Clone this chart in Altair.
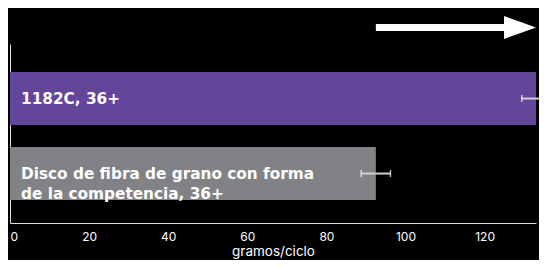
import altair as alt
import pandas as pd

labels = ["1182C, 36+", "Disco de fibra de grano con forma\nde la competencia, 36+"]
keys = ["a", "b"]
values = [133.0, 92.5]
errors = [3.6, 3.7]
colors = ["#634599", "#818285"]
x_ticks = [0, 20, 40, 60, 80, 100, 120]
x_max = 133

df = pd.DataFrame({
    "key": keys,
    "label": labels,
    "value": values,
    "lo": [v - e for v, e in zip(values, errors)],
    "hi": [v + e for v, e in zip(values, errors)],
    "color": colors,
})

FONT = "Inter"
BOLD_FONT = "DejaVu Sans"

xscale = alt.Scale(domain=[0, x_max], nice=False, zero=True)
yscale = alt.Scale(domain=keys, paddingInner=0.2933, paddingOuter=0.34, align=0.55)

base = alt.Chart(df)

bars = base.mark_bar().encode(
    x=alt.X("value:Q", scale=xscale,
            axis=alt.Axis(values=x_ticks, title="gramos/ciclo", grid=False, ticks=False,
                          labelColor="#ffffff", titleColor="#ffffff", domainColor="#dddddd",
                          labelFont=FONT, titleFont=FONT, labelFontSize=12, titleFontSize=13.5,
                          titleFontWeight="normal", labelPadding=8, titlePadding=2)),
    y=alt.Y("key:N", scale=yscale,
            axis=alt.Axis(labels=False, ticks=False, title=None, domainColor="#dddddd")),
    color=alt.Color("color:N", scale=None),
)

err = base.mark_rule(color="#cfcfcf", strokeWidth=2).encode(
    x="lo:Q", x2="hi:Q", y=alt.Y("key:N", bandPosition=0.5)
)
cap_lo = base.mark_tick(color="#ffffff", orient="vertical", size=7, thickness=1.5).encode(
    x="lo:Q", y="key:N"
)
cap_hi = base.mark_tick(color="#ffffff", orient="vertical", size=7, thickness=1.5).encode(
    x="hi:Q", y="key:N"
)

text = base.mark_text(align="left", baseline="middle", dx=11, color="#ffffff",
                      font=BOLD_FONT, fontSize=15.3, fontWeight="bold", lineBreak="\n",
                      lineHeight=20).encode(
    x=alt.datum(0), y="key:N", text="label:N"
)

arrow_df = pd.DataFrame({"x0": [values[1]], "x1": [values[0] - 7], "tip": [values[0]]})
shaft = alt.Chart(arrow_df).mark_rule(color="#ffffff", strokeWidth=7).encode(
    x="x0:Q", x2="x1:Q", y=alt.value(-16.5)
)
head = alt.Chart(arrow_df).mark_point(
    shape="M-2,-0.72L0,0L-2,0.72Z", size=1024, filled=True, color="#ffffff", opacity=1
).encode(x="tip:Q", y=alt.value(-16.5))

chart = alt.layer(bars, err, cap_lo, cap_hi, text, shaft, head).properties(
    width=526, height=179, background="#000000",
    padding={"left": 2, "top": 36, "right": 3, "bottom": 37},
    autosize=alt.AutoSizeParams(type="none"),
).configure_view(stroke=None)

chart.save("out.html", embed_options={"renderer": "svg", "actions": False})
